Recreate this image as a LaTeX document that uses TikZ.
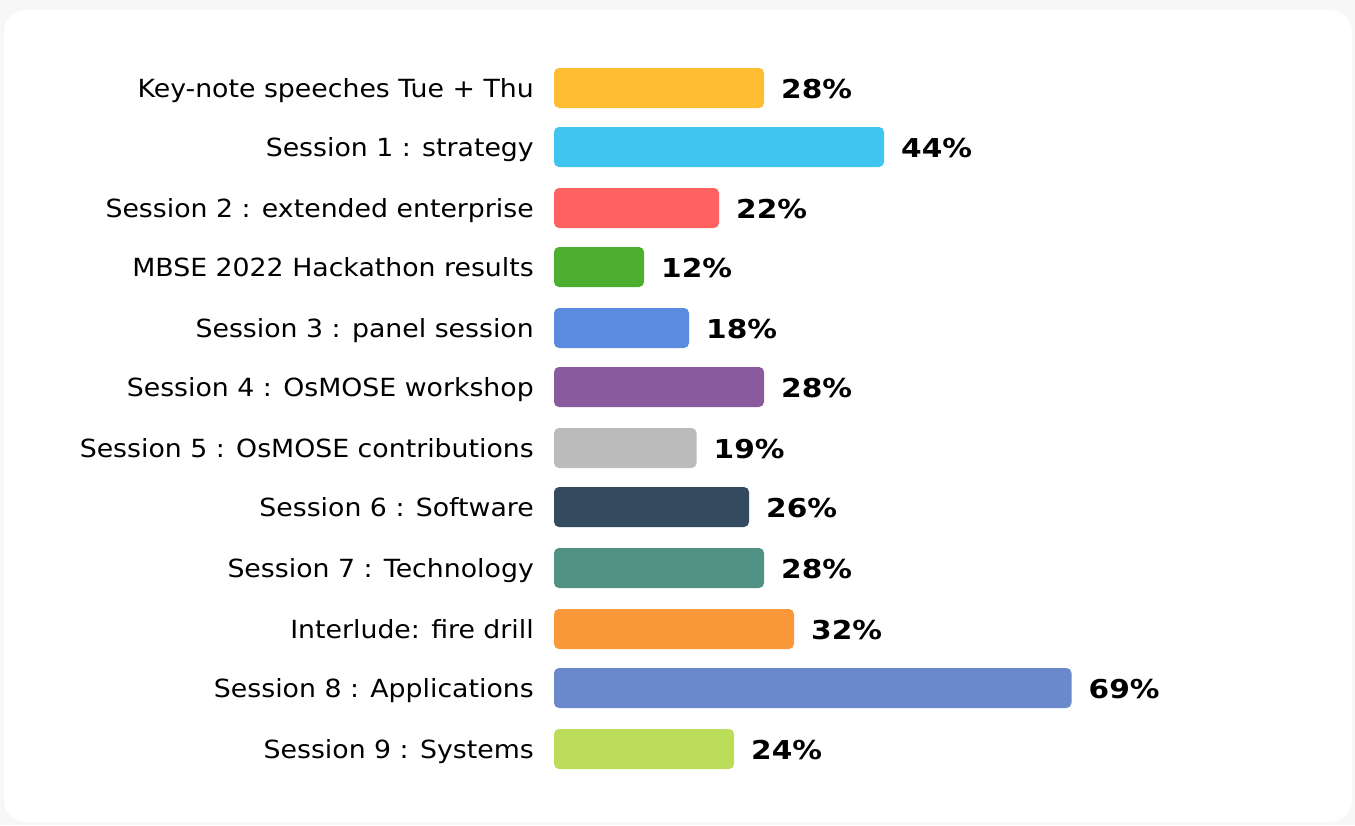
\documentclass[tikz,border=0pt]{standalone}
\usepackage{fontspec}
\setmainfont{DejaVu Sans}
\definecolor{bgout}{HTML}{F7F7F7}
\definecolor{c1}{HTML}{FFBD33}
\definecolor{c2}{HTML}{40C4F0}
\definecolor{c3}{HTML}{FF6361}
\definecolor{c4}{HTML}{4CAF2D}
\definecolor{c5}{HTML}{5B8BDF}
\definecolor{c6}{HTML}{8A5A9E}
\definecolor{c7}{HTML}{BBBBBB}
\definecolor{c8}{HTML}{344A5F}
\definecolor{c9}{HTML}{4F9284}
\definecolor{c10}{HTML}{F9993A}
\definecolor{c11}{HTML}{6A89CC}
\definecolor{c12}{HTML}{BCDD5A}
\begin{document}
\begin{tikzpicture}[x=1pt,y=-1pt,
  lab/.style={anchor=base east,inner sep=0pt,xscale=1.07,font=\fontsize{25}{30}\selectfont},
  pct/.style={anchor=base west,inner sep=0pt,xscale=1.14,font=\fontsize{26}{30}\selectfont\bfseries},
  barbox/.style={rounded corners=5pt}]
\fill[bgout] (0,0) rectangle (1355,825);
\useasboundingbox (0,0) rectangle (1355,825);
\fill[white,rounded corners=22pt] (4,10) rectangle (1352,822);
\foreach \i/\y/\p/\t/\c in {
 1/88/28/Key-note speeches Tue + Thu/c1,
 2/147/44/Session 1 : strategy/c2,
 3/208/22/Session 2 : extended enterprise/c3,
 4/267/12/MBSE 2022 Hackathon results/c4,
 5/328/18/Session 3 : panel session/c5,
 6/387/28/Session 4 : OsMOSE workshop/c6,
 7/448/19/Session 5 : OsMOSE contributions/c7,
 8/507/26/Session 6 : Software/c8,
 9/568/28/Session 7 : Technology/c9,
 10/629/32/Interlude: fire drill/c10,
 11/688/69/Session 8 : Applications/c11,
 12/749/24/Session 9 : Systems/c12}{
  \fill[\c,barbox] (554,\y-20) rectangle ++(7.5*\p,40);
  \node[lab] (l\i) at (534,\y+9) {\t};
  \node[pct] (p\i) at (554+7.5*\p+17,\y+10) {\p\%};
}
\end{tikzpicture}
\end{document}
